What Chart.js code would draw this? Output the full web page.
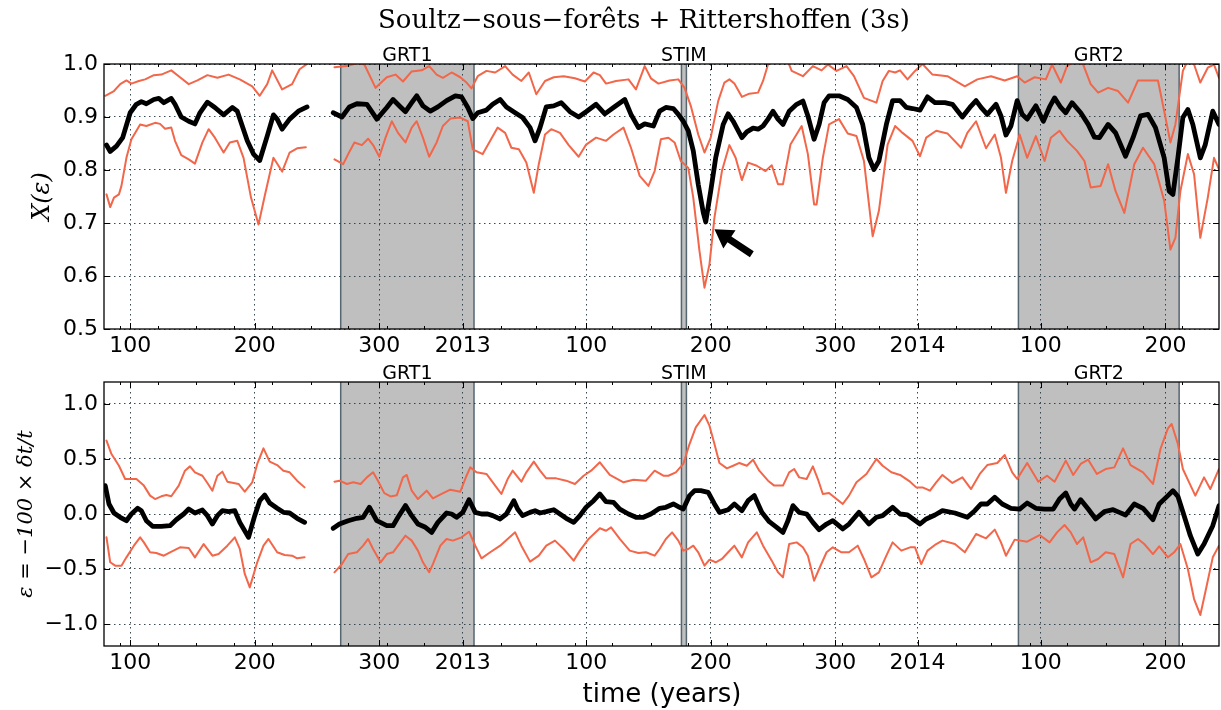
<!DOCTYPE html>
<html lang="fr">
<head>
<meta charset="UTF-8">
<title>Soultz-sous-forêts + Rittershoffen (3s)</title>
<script src="https://cdn.jsdelivr.net/npm/chart.js"></script>
<style>
    html, body { margin: 0; padding: 0; background: #fff; }
    canvas { position: absolute; left: 0; }
</style>
</head>
<body>
<canvas id="chartX" width="1221" height="360" style="top:0"></canvas>
<canvas id="chartEps" width="1221" height="350" style="top:360px"></canvas>

<script>
// x axis: day count from 1 Jan 2012
const xMin = 79, xMax = 974;
const tickDays = [100, 200, 300, 367, 466, 566, 666, 732, 831, 931];
const tickLabels = ['100', '200', '300', '2013', '100', '200', '300', '2014', '100', '200'];
const monthDays = [92, 122, 153, 183, 214, 245, 275, 306, 336, 398, 426, 457, 487, 518, 548, 579, 610, 640, 671, 701, 763, 791, 822, 852, 883, 913, 944];

// shaded periods
const spanNames = ['GRT1', 'STIM', 'GRT2'];
const spanStart = [269, 542.5, 813];
const spanEnd = [376, 546.5, 942];

// arrow on the top panel (day, value)
const arrowTip = [569, 0.688];
const arrowTail = [599, 0.641];

// top panel: X(eps)
const tMeanDay = [81,84,89,94,100,105,109,113,119,123,127,133,136,141,147,152,156,162,168,175,182,186,194,199,204,210,215,218,222,228,235,242,252,263,270,276,282,290,298,306,311,317,321,326,330,335,341,347,354,361,366,371,375,379,386,391,397,402,409,415,421,425,429,434,440,446,453,460,466,474,481,488,497,502,508,513,520,525,530,536,540,544,548,552,556,560,562,566,570,576,580,584,591,595,600,604,608,612,616,620,624,629,635,640,644,649,653,657,661,669,676,683,688,693,697,701,707,712,718,723,728,734,740,746,754,760,768,774,779,783,788,795,799,803,807,812,816,820,827,833,838,842,847,851,856,863,869,874,878,885,891,899,905,911,917,923,930,934,937,941,945,949,953,959,963,969,974];
const tMeanVal = [.847,.835,.845,.861,.908,.924,.929,.925,.933,.935,.927,.935,.924,.900,.892,.887,.908,.928,.918,.904,.918,.911,.855,.830,.818,.864,.904,.896,.877,.896,.911,.919,null,.908,.900,.919,.925,.924,.896,.918,.933,.919,.910,.927,.940,.921,.911,.919,.931,.940,.938,.918,.897,.908,.913,.924,.933,.919,.908,.899,.880,.855,.880,.919,.921,.927,.910,.900,.910,.924,.906,.918,.933,.905,.880,.887,.883,.911,.918,.916,.905,.892,.874,.836,.773,.720,.702,.760,.823,.886,.906,.892,.861,.872,.879,.877,.883,.896,.911,.896,.886,.911,.924,.930,.902,.858,.886,.927,.940,.940,.933,.918,.886,.823,.801,.817,.886,.931,.931,.918,.916,.913,.938,.927,.927,.924,.900,.918,.931,.918,.905,.924,.902,.866,.883,.931,.905,.896,.921,.892,.919,.936,.918,.908,.927,.908,.886,.862,.861,.886,.870,.826,.861,.902,.905,.880,.823,.760,.754,.823,.899,.914,.886,.823,.848,.911,.886];

const tUpDay = [80,87,92,97,101,107,112,119,125,133,140,147,154,162,170,179,188,198,204,210,214,222,230,236,242,252,264,274,283,288,297,306,313,319,326,334,340,346,351,358,365,370,374,379,386,393,401,407,414,420,426,433,440,448,457,465,472,477,482,490,500,506,513,518,524,533,540,545,550,556,561,566,572,577,581,585,591,597,604,608,612,615,627,631,640,648,655,660,667,675,681,689,699,704,709,714,718,724,730,736,744,756,770,780,791,802,812,818,826,835,840,847,852,858,865,871,877,885,893,901,909,925,930,935,939,945,949,954,959,965,970,974];
const tUpVal = [.940,.949,.962,.969,.963,.968,.971,.979,.980,.988,.975,.962,.969,.979,.974,.980,.971,.958,.940,.962,.988,.952,.962,.990,1.0,null,.994,.996,1.002,.999,.955,.975,.980,.967,.986,.988,.996,.980,.974,.984,.975,.965,.954,.977,.987,.984,.996,.980,.968,.984,.943,.968,.975,.977,.973,.967,.984,.979,.963,.968,.971,.952,.996,.973,.963,.969,.971,.955,.921,.867,.833,.861,.930,.965,.971,.963,.938,.944,.946,.968,.999,1.01,1.01,.987,.977,.996,.988,.999,.987,.996,.977,.936,.927,.968,.987,.984,.988,.971,.987,1.0,.980,.977,.958,.971,.977,.969,.977,.965,.975,.971,.999,.965,.996,1.005,.999,.962,.946,.955,.949,.927,.969,.969,.911,.852,.886,.987,1.007,.999,.965,.993,.999,.974];

const tLoDay = [81,84,87,91,93,97,101,104,108,113,120,124,128,133,136,141,147,152,158,163,168,175,180,186,191,197,203,208,215,222,228,234,241,252,264,271,275,280,286,291,295,300,305,310,315,321,326,330,335,340,346,351,357,365,371,375,383,389,395,401,406,412,418,424,428,433,438,445,452,460,466,474,482,488,496,502,509,516,521,526,532,537,542,548,552,557,561,565,569,575,581,586,591,596,603,610,615,620,624,630,639,644,649,651,656,661,669,676,683,689,696,701,708,714,720,728,734,739,747,756,767,772,779,787,794,799,803,808,814,820,827,834,839,846,852,860,866,871,879,885,891,898,906,913,922,930,935,939,943,949,954,959,965,970,974];
const tLoVal = [.754,.730,.748,.754,.770,.823,.858,.870,.886,.883,.889,.887,.878,.880,.855,.828,.820,.812,.852,.877,.861,.833,.852,.855,.823,.748,.697,.751,.823,.797,.833,.841,.843,null,.820,.811,.830,.852,.847,.859,.847,.825,.861,.892,.870,.852,.880,.892,.861,.825,.852,.883,.897,.899,.892,.839,.830,.855,.880,.870,.842,.839,.814,.757,.811,.867,.877,.870,.847,.825,.848,.861,.855,.867,.880,.842,.789,.770,.798,.858,.861,.852,.817,.804,.748,.647,.578,.622,.710,.798,.847,.823,.781,.814,.808,.798,.809,.773,.773,.848,.883,.830,.735,.735,.823,.886,.896,.869,.864,.817,.675,.723,.848,.883,.870,.855,.826,.861,.874,.869,.842,.870,.892,.841,.867,.823,.757,.817,.867,.823,.864,.817,.861,.874,.855,.836,.817,.767,.770,.811,.760,.719,.811,.842,.811,.742,.650,.672,.760,.830,.792,.672,.748,.823,.801];

// bottom panel: eps = -100 dt/t
const bMeanDay = [80,83,87,92,97,101,106,109,113,118,125,132,137,143,147,152,158,162,166,170,174,179,184,188,195,200,204,208,212,218,223,228,234,240,252,263,268,275,282,287,292,298,306,311,315,321,326,331,337,342,347,354,358,362,367,372,377,382,387,391,397,402,408,411,415,421,425,429,434,440,445,450,456,461,466,472,477,482,488,493,500,506,512,518,525,530,536,541,544,549,553,558,564,569,573,580,585,591,596,601,607,613,619,624,628,632,637,643,648,653,659,664,672,677,685,693,699,704,712,718,724,734,739,746,752,762,772,778,783,788,794,800,807,814,820,827,834,841,846,851,855,858,863,869,875,882,889,894,899,906,913,921,926,933,937,941,946,951,957,962,969,974];
const bMeanVal = [.258,.091,.009,-.030,-.061,0,.052,.030,-.061,-.112,-.112,-.106,-.052,0,.045,.009,.036,-.015,-.091,-.015,.030,.021,.030,-.076,-.212,-.015,.121,.173,.100,.052,.015,.009,-.039,-.076,null,-.130,-.091,-.061,-.039,-.030,.061,-.061,-.106,-.106,-.030,.076,-.015,-.091,-.121,-.167,-.076,.009,0,-.030,.015,.130,.015,0,0,-.015,-.045,0,.121,.045,-.015,.015,.030,.009,.021,.039,0,-.039,-.076,-.015,.061,.121,.182,.112,.106,.045,0,-.030,-.030,0,.052,.061,.091,.061,.045,.167,.212,.212,.197,.091,.015,.039,.091,.030,.121,.167,.015,-.070,-.121,-.167,-.061,.076,.015,0,-.076,-.142,-.091,-.061,-.136,-.091,.015,-.091,-.030,-.015,.061,0,-.009,-.091,-.045,-.009,.030,.009,-.030,.030,.091,.091,.152,.091,.052,.045,.100,.052,.045,.045,.136,.191,.091,.045,.130,.045,-.045,.021,.039,.015,-.009,.091,.052,-.052,.091,.167,.212,.161,-.015,-.197,-.364,-.273,-.106,.076];

const bUpDay = [81,85,91,96,101,105,111,116,120,125,129,133,139,144,148,152,158,162,166,170,174,178,183,187,192,198,202,207,212,218,223,228,234,240,252,264,268,274,279,285,290,295,299,304,309,314,319,322,326,331,338,343,350,357,365,370,373,378,386,393,398,403,407,414,418,424,429,434,442,450,457,464,470,477,485,496,504,514,521,528,532,538,544,549,554,561,565,569,573,579,584,589,595,600,605,612,617,624,629,633,637,643,648,652,656,661,667,672,677,683,691,699,704,711,718,726,731,736,742,747,752,760,768,775,782,788,796,802,808,812,820,829,836,842,851,857,863,869,876,883,890,897,903,913,921,927,933,936,941,945,950,955,962,967,974];
const bUpVal = [.667,.545,.439,.318,.318,.318,.258,.167,.136,.161,.173,.161,.258,.394,.433,.379,.348,.282,.212,.348,.385,.294,.282,.273,.203,.288,.455,.597,.476,.445,.394,.379,.303,.242,null,.294,.303,.273,.288,.273,.333,.379,.300,.190,.160,.170,.333,.355,.212,.136,.212,.142,.182,.221,.203,.348,.424,.379,.364,.258,.182,.318,.394,.294,.379,.476,.394,.324,.324,.303,.273,.348,.394,.470,.355,.288,.312,.303,.394,.348,.348,.379,.455,.636,.788,.900,.803,.636,.464,.415,.439,.464,.439,.494,.394,.303,.258,.258,.379,.409,.333,.318,.433,.318,.182,.191,.136,.091,.167,.288,.364,.500,.439,.379,.355,.294,.242,.242,.212,.288,.355,.282,.333,.227,.364,.445,.464,.536,.379,.318,.464,.294,.348,.294,.485,.355,.455,.494,.364,.409,.424,.597,.445,.379,.273,.591,.779,.818,.636,.409,.288,.167,.333,.227,.409];

const bLoDay = [81,84,88,93,97,103,108,111,116,121,127,132,140,147,152,159,166,171,178,184,188,192,196,202,207,211,218,224,230,234,240,252,264,270,275,282,287,291,295,301,306,311,315,321,326,331,335,340,343,349,354,359,366,372,377,382,389,397,403,409,414,421,428,434,441,448,456,461,468,477,482,486,493,501,508,514,521,525,530,535,540,544,548,552,556,561,565,570,575,580,585,591,596,603,608,615,620,624,629,635,640,644,649,653,659,664,671,677,684,689,695,701,707,712,719,726,730,735,740,747,752,762,770,779,787,794,799,803,810,820,830,838,844,850,855,860,865,871,877,883,890,897,903,909,914,921,926,933,938,943,949,954,959,963,969,974];
const bLoVal = [-.212,-.439,-.470,-.470,-.394,-.288,-.212,-.258,-.348,-.355,-.379,-.348,-.303,-.309,-.394,-.273,-.379,-.364,-.288,-.212,-.318,-.545,-.667,-.439,-.288,-.227,-.348,-.373,-.379,-.403,-.394,null,-.530,-.455,-.364,-.348,-.288,-.227,-.318,-.439,-.364,-.348,-.288,-.197,-.242,-.333,-.439,-.530,-.455,-.288,-.227,-.242,-.212,-.161,-.288,-.403,-.348,-.288,-.227,-.167,-.288,-.433,-.379,-.288,-.242,-.318,-.424,-.333,-.227,-.130,-.152,-.121,-.227,-.333,-.355,-.348,-.379,-.318,-.227,-.167,-.242,-.333,-.318,-.288,-.348,-.470,-.415,-.439,-.409,-.348,-.288,-.394,-.258,-.167,-.288,-.424,-.530,-.576,-.273,-.258,-.303,-.379,-.606,-.500,-.348,-.303,-.348,-.348,-.288,-.409,-.576,-.530,-.379,-.258,-.333,-.303,-.303,-.455,-.333,-.273,-.242,-.273,-.348,-.182,-.221,-.142,-.258,-.379,-.233,-.252,-.191,-.258,-.167,-.100,-.167,-.273,-.212,-.439,-.409,-.348,-.364,-.576,-.273,-.227,-.273,-.364,-.294,-.394,-.348,-.273,-.500,-.773,-.918,-.712,-.394,-.288];

const topTicks = [0.5, 0.6, 0.7, 0.8, 0.9, 1.0];
const bottomTicks = [-1.0, -0.5, 0.0, 0.5, 1.0];

const corVermelho = '#f2664a';
const corGrade = 'rgba(35,55,65,0.9)';

Chart.defaults.font.family = 'DejaVu Sans';
Chart.defaults.color = '#000';

function pontos(dias, valores) {
    return dias.map((d, i) => ({ x: d, y: valores[i] }));
}

function serie(dias, valores, cor, largura) {
    return {
        data: pontos(dias, valores),
        borderColor: cor,
        borderWidth: largura,
        pointRadius: 0,
        tension: 0,
        fill: false,
        spanGaps: false,
        clip: 0,
        borderJoinStyle: 'round',
        borderCapStyle: 'round'
    };
}

function linha(ctx, x1, y1, x2, y2) {
    ctx.beginPath();
    ctx.moveTo(x1, y1);
    ctx.lineTo(x2, y2);
    ctx.stroke();
}

const decor = {
    id: 'decor',
    beforeDraw(chart, args, opt) {
        const { ctx, chartArea: a, scales: { x } } = chart;
        ctx.save();
        ctx.fillStyle = '#fff';
        ctx.fillRect(0, 0, chart.width, chart.height);
        for (let i = 0; i < spanNames.length; i++) {
            const x1 = x.getPixelForValue(spanStart[i]);
            const x2 = x.getPixelForValue(spanEnd[i]);
            ctx.fillStyle = '#bfbfbf';
            ctx.fillRect(x1, a.top, x2 - x1, a.bottom - a.top);
            ctx.strokeStyle = '#56666f';
            ctx.lineWidth = 1.5;
            linha(ctx, x1, a.top, x1, a.bottom);
            linha(ctx, x2, a.top, x2, a.bottom);
            ctx.fillStyle = '#000';
            ctx.font = '19px "DejaVu Sans"';
            ctx.textAlign = 'center';
            ctx.textBaseline = 'alphabetic';
            ctx.fillText(spanNames[i], (x1 + x2) / 2, a.top - 3);
        }
        ctx.restore();
    },
    afterDraw(chart, args, opt) {
        const { ctx, chartArea: a, scales: { x, y } } = chart;
        ctx.save();
        ctx.strokeStyle = '#000';
        ctx.lineWidth = 1;
        // ticks pointing inwards
        tickDays.forEach(d => {
            const px = Math.round(x.getPixelForValue(d)) + 0.5;
            linha(ctx, px, a.bottom, px, a.bottom - 6);
            linha(ctx, px, a.top, px, a.top + 6);
        });
        monthDays.forEach(d => {
            const px = Math.round(x.getPixelForValue(d)) + 0.5;
            linha(ctx, px, a.bottom, px, a.bottom - 3);
            linha(ctx, px, a.top, px, a.top + 3);
        });
        y.ticks.forEach(t => {
            const py = Math.round(y.getPixelForValue(t.value)) + 0.5;
            linha(ctx, a.left, py, a.left + 6, py);
            linha(ctx, a.right, py, a.right - 6, py);
        });
        ctx.lineWidth = 1.3;
        ctx.strokeRect(a.left, a.top, a.right - a.left, a.bottom - a.top);

        ctx.fillStyle = '#000';
        if (opt.titulo) {
            ctx.font = '26px "DejaVu Serif"';
            ctx.textAlign = 'center';
            ctx.textBaseline = 'alphabetic';
            ctx.fillText(opt.titulo, 644, 28);
        }
        if (opt.eixoX) {
            ctx.font = '26px "DejaVu Sans"';
            ctx.textAlign = 'center';
            ctx.textBaseline = 'alphabetic';
            ctx.fillText(opt.eixoX, 662, 342);
        }
        ctx.save();
        ctx.translate(opt.yLabelX, (a.top + a.bottom) / 2);
        ctx.rotate(-Math.PI / 2);
        ctx.font = opt.yLabelFont;
        ctx.textAlign = 'center';
        ctx.textBaseline = 'middle';
        ctx.fillText(opt.yLabel, 0, 0);
        ctx.restore();

        if (opt.seta) {
            const tx = x.getPixelForValue(arrowTip[0]), ty = y.getPixelForValue(arrowTip[1]);
            const ex = x.getPixelForValue(arrowTail[0]), ey = y.getPixelForValue(arrowTail[1]);
            const len = Math.hypot(tx - ex, ty - ey);
            const ux = (tx - ex) / len, uy = (ty - ey) / len;
            const nx = -uy, ny = ux;
            const bx = tx - ux * 18, by = ty - uy * 18;
            const w = 3.5, hw = 11;
            ctx.beginPath();
            ctx.moveTo(ex + nx * w, ey + ny * w);
            ctx.lineTo(bx + nx * w, by + ny * w);
            ctx.lineTo(bx + nx * hw, by + ny * hw);
            ctx.lineTo(tx, ty);
            ctx.lineTo(bx - nx * hw, by - ny * hw);
            ctx.lineTo(bx - nx * w, by - ny * w);
            ctx.lineTo(ex - nx * w, ey - ny * w);
            ctx.closePath();
            ctx.fill();
        }
        ctx.restore();
    }
};

function escalaX(altura) {
    return {
        type: 'linear',
        min: xMin,
        max: xMax,
        afterBuildTicks: s => { s.ticks = tickDays.map(v => ({ value: v })); },
        afterFit: s => { s.height = altura; },
        ticks: {
            callback: (v, i) => tickLabels[i],
            font: { size: 22 },
            padding: 4,
            maxRotation: 0,
            autoSkip: false
        },
        grid: { color: corGrade, lineWidth: 1, drawTicks: false },
        border: { display: false, dash: [1.5, 3.5] }
    };
}

function escalaY(min, max, marcas) {
    return {
        min: min,
        max: max,
        afterBuildTicks: s => { s.ticks = marcas.map(v => ({ value: v })); },
        afterFit: s => { s.width = 104; },
        ticks: {
            callback: v => v.toFixed(1).replace('-', '\u2212'),
            font: { size: 22 },
            padding: 6
        },
        grid: { color: corGrade, lineWidth: 1, drawTicks: false },
        border: { display: false, dash: [1.5, 3.5] }
    };
}

const chartX = new Chart(document.getElementById('chartX'), {
    type: 'line',
    data: {
        datasets: [
            serie(tUpDay, tUpVal, corVermelho, 2),
            serie(tLoDay, tLoVal, corVermelho, 2),
            serie(tMeanDay, tMeanVal, '#000', 4.8)
        ]
    },
    options: {
        responsive: false,
        animation: false,
        events: [],
        layout: { padding: { top: 64, left: 0, right: 2, bottom: 0 } },
        scales: { x: escalaX(31), y: escalaY(0.5, 1.0, topTicks) },
        plugins: {
            legend: { display: false },
            tooltip: { enabled: false },
            decor: {
                titulo: 'Soultz\u2212sous\u2212forêts + Rittershoffen (3s)',
                yLabel: 'X(\u03b5)',
                yLabelX: 43,
                yLabelFont: 'italic 24px "DejaVu Serif"',
                seta: true
            }
        }
    },
    plugins: [decor]
});

const chartEps = new Chart(document.getElementById('chartEps'), {
    type: 'line',
    data: {
        datasets: [
            serie(bUpDay, bUpVal, corVermelho, 2),
            serie(bLoDay, bLoVal, corVermelho, 2),
            serie(bMeanDay, bMeanVal, '#000', 4.8)
        ]
    },
    options: {
        responsive: false,
        animation: false,
        events: [],
        layout: { padding: { top: 22, left: 0, right: 2, bottom: 0 } },
        scales: { x: escalaX(64), y: escalaY(-1.2, 1.2, bottomTicks) },
        plugins: {
            legend: { display: false },
            tooltip: { enabled: false },
            decor: {
                eixoX: 'time (years)',
                yLabel: '\u03b5 = \u2212100 \u00d7 \u03b4t/t',
                yLabelX: 27,
                yLabelFont: 'italic 21px "DejaVu Serif"'
            }
        }
    },
    plugins: [decor]
});
</script>
</body>
</html>
